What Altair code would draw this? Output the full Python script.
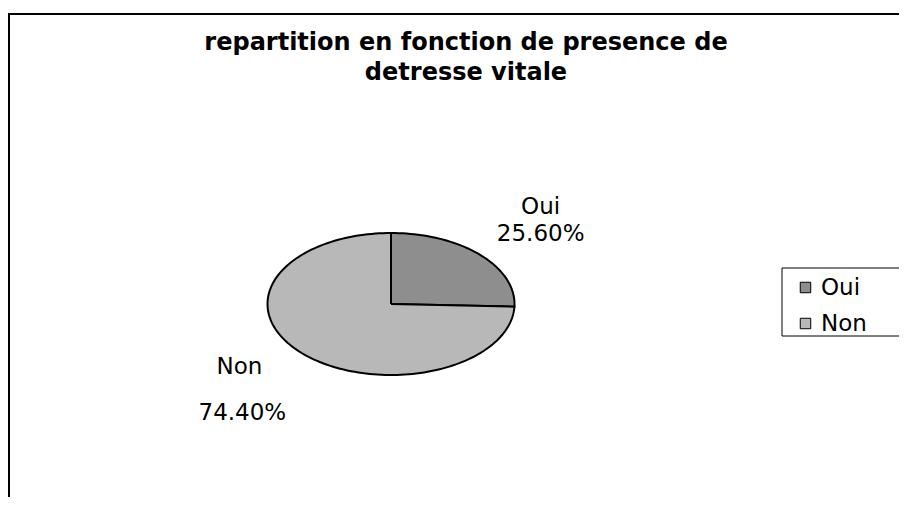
import altair as alt
import numpy as np
import pandas as pd

# ---- data ----
categories = ["Oui", "Non"]
percentages = [25.6, 74.4]
pct_labels = ["25.60%", "74.40%"]
title_lines = ["repartition en fonction de presence de", "detresse vitale"]
fill_colors = ["#8e8e8e", "#b8b8b8"]

# ---- slice outlines derived from the values (clockwise from 12 o'clock) ----
total = sum(percentages)
poly_rows = []
label_rows = []
start = 0.0
for cat, val, pl in zip(categories, percentages, pct_labels):
    frac = val / total
    k = max(int(200 * frac), 6)
    poly_rows.append(dict(cat=cat, idx=0, px=0.0, py=0.0))
    for i in range(k + 1):
        a = 2 * np.pi * (start + frac * i / k)
        poly_rows.append(dict(cat=cat, idx=i + 1, px=np.sin(a), py=np.cos(a)))
    poly_rows.append(dict(cat=cat, idx=k + 2, px=0.0, py=0.0))
    mid = 2 * np.pi * (start + frac / 2)
    label_rows.append(dict(cat=cat, pct=pl, lx=1.3 * np.sin(mid), ly=1.3 * np.cos(mid)))
    start += frac

poly = pd.DataFrame(poly_rows)
labels = pd.DataFrame(label_rows)
one = pd.DataFrame({"a": [0]})

FONT = "DejaVu Sans"

xs = alt.Scale(domain=[-1, 1], range=[259.5, 506.5])
ys = alt.Scale(domain=[-1, 1], range=[367, 225])

# frame (left and top edges visible in the window)
frame_left = alt.Chart(one).mark_rule(color="black", strokeWidth=2).encode(
    x=alt.value(1), y=alt.value(6), y2=alt.value(489))
frame_top = alt.Chart(one).mark_rule(color="black", strokeWidth=2).encode(
    x=alt.value(0), x2=alt.value(891), y=alt.value(6))

# title
title1 = alt.Chart(one).mark_text(font=FONT, fontSize=24, fontWeight="bold", color="black",
                                  align="center", baseline="alphabetic").encode(
    x=alt.value(458), y=alt.value(42), text=alt.value(title_lines[0]))
title2 = alt.Chart(one).mark_text(font=FONT, fontSize=24, fontWeight="bold", color="black",
                                  align="center", baseline="alphabetic").encode(
    x=alt.value(458), y=alt.value(72), text=alt.value(title_lines[1]))

# pie (elliptical, drawn through x/y scales)
pie = alt.Chart(poly).mark_line(stroke="black", strokeWidth=2, strokeJoin="miter", interpolate="linear").encode(
    x=alt.X("px:Q", scale=xs, axis=None),
    y=alt.Y("py:Q", scale=ys, axis=None),
    order=alt.Order("idx:Q"),
    fill=alt.Fill("cat:N", scale=alt.Scale(domain=categories, range=fill_colors),
                  legend=alt.Legend(title=None, orient="none", legendX=786, legendY=268,
                                    symbolType="square", symbolSize=110,
                                    symbolStrokeColor="black", symbolStrokeWidth=1,
                                    labelFont=FONT, labelFontSize=23, labelColor="black",
                                    labelOffset=4, rowPadding=12, padding=0)),
)

# legend box
legend_box = alt.Chart(one).mark_rect(fill="white", stroke="black", strokeWidth=1).encode(
    x=alt.value(774), x2=alt.value(898), y=alt.value(260), y2=alt.value(328))


def lab(cat, field, dx, dy):
    return alt.Chart(labels).transform_filter(alt.datum.cat == cat).mark_text(
        font=FONT, fontSize=23, color="black", align="center", baseline="middle", dx=dx, dy=dy
    ).encode(x=alt.X("lx:Q"), y=alt.Y("ly:Q"), text=alt.Text(field + ":N"))


chart = alt.layer(
    frame_left, frame_top, title1, title2, legend_box, pie,
    lab("Oui", "cat", 34, -33), lab("Oui", "pct", 34, -6),
    lab("Non", "cat", -36, -1), lab("Non", "pct", -33, 45),
).properties(
    width=891, height=489, autosize=alt.AutoSizeParams(type="none"), padding=0
).configure_view(stroke=None)

chart.save("out.html", embed_options={"renderer": "svg", "actions": False})
